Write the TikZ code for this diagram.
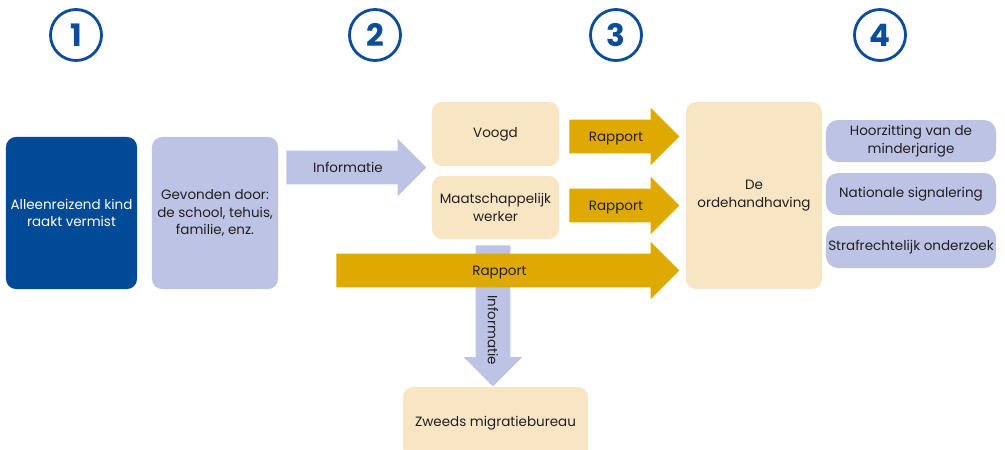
\documentclass[tikz,border=0pt]{standalone}
\usepackage{fontspec}
\setmainfont{Poppins}
\usetikzlibrary{shapes.arrows}

\definecolor{navy}{HTML}{004A98}
\definecolor{ringblue}{HTML}{0B4C9C}
\definecolor{lavender}{HTML}{BDC3E4}
\definecolor{sand}{HTML}{F7E5C3}
\definecolor{gold}{HTML}{DEA900}
\definecolor{ink}{HTML}{231F20}

\begin{document}
\begin{tikzpicture}[x=0.025cm,y=-0.025cm,
  box/.style={rounded corners=0.25cm, align=center, text=ink, inner sep=0pt,
    font=\fontsize{9.6}{12.4}\selectfont},
  num/.style={circle, draw=ringblue, line width=2pt, minimum size=1.275cm,
    inner sep=0pt, text=ringblue, font=\fontsize{22}{22}\bfseries},
  blockarrow/.style={single arrow, single arrow head extend=0.3cm, anchor=tail,
    inner xsep=0pt, inner ysep=0pt, text height=0.525cm, text depth=0.3cm,
    text=ink, font=\fontsize{9.6}{11}\selectfont}
]

% page size
\useasboundingbox (0,0) rectangle (1005,449);

% Step numbers
 \node[num] (num1) at (76,35) {1};
 \node[num] (num2) at (375,35) {2};
 \node[num] (num3) at (616,35) {3};
 \node[num] (num4) at (880,35) {4};

% Column 1
 \node[box, fill=navy, text=white, minimum width=3.275cm, minimum height=3.8cm]
   (kind) at (71.5,213) {Alleenreizend kind\\raakt vermist};
 \node[box, fill=lavender, minimum width=3.15cm, minimum height=3.8cm]
   (gevonden) at (215,213) {Gevonden door:\\de school, tehuis,\\familie, enz.};

% Column 2
 \node[blockarrow, fill=lavender, minimum height=3.5cm] (info1) at (286,167.5) {Informatie};
 \node[box, fill=sand, minimum width=3.175cm, minimum height=1.6cm]
   (voogd) at (495.5,134) {Voogd};
 \node[box, fill=sand, minimum width=3.175cm, minimum height=1.575cm]
   (werker) at (495.5,207.5) {Maatschappelijk\\werker};
 \node[blockarrow, fill=lavender, rotate=-90, text height=0.525cm, text depth=0.325cm,
   minimum height=3.525cm] (info2) at (493,245) {};
 \node[box, fill=sand, minimum width=4.625cm, minimum height=1.8cm]
   (zweeds) at (495.5,423) {Zweeds migratiebureau};

% Rapport arrows
 \node[blockarrow, fill=gold, minimum height=2.75cm] (rap1) at (569,136.5) {Rapport};
 \node[blockarrow, fill=gold, minimum height=2.75cm] (rap2) at (569,205.5) {Rapport};
 \node[blockarrow, fill=gold, minimum height=8.575cm] (rap3) at (336,270.5) {Rapport};
 \node[rotate=-90, text=ink, font=\fontsize{9.6}{11}\selectfont] (infolabel) at (493,330) {Informatie};

% Column 3 and 4
 \node[box, fill=sand, minimum width=3.4cm, minimum height=4.675cm]
   (orde) at (754,195.5) {De\\ordehandhaving};
 \node[box, fill=lavender, rounded corners=0.3cm, minimum width=4.25cm, minimum height=1.05cm]
   (hoor) at (911,141) {Hoorzitting van de\\minderjarige};
 \node[box, fill=lavender, rounded corners=0.3cm, minimum width=4.25cm, minimum height=1.05cm]
   (signal) at (911,194) {Nationale signalering};
 \node[box, fill=lavender, rounded corners=0.3cm, minimum width=4.25cm, minimum height=1.05cm]
   (straf) at (911,247) {Strafrechtelijk onderzoek};

\end{tikzpicture}
\end{document}
